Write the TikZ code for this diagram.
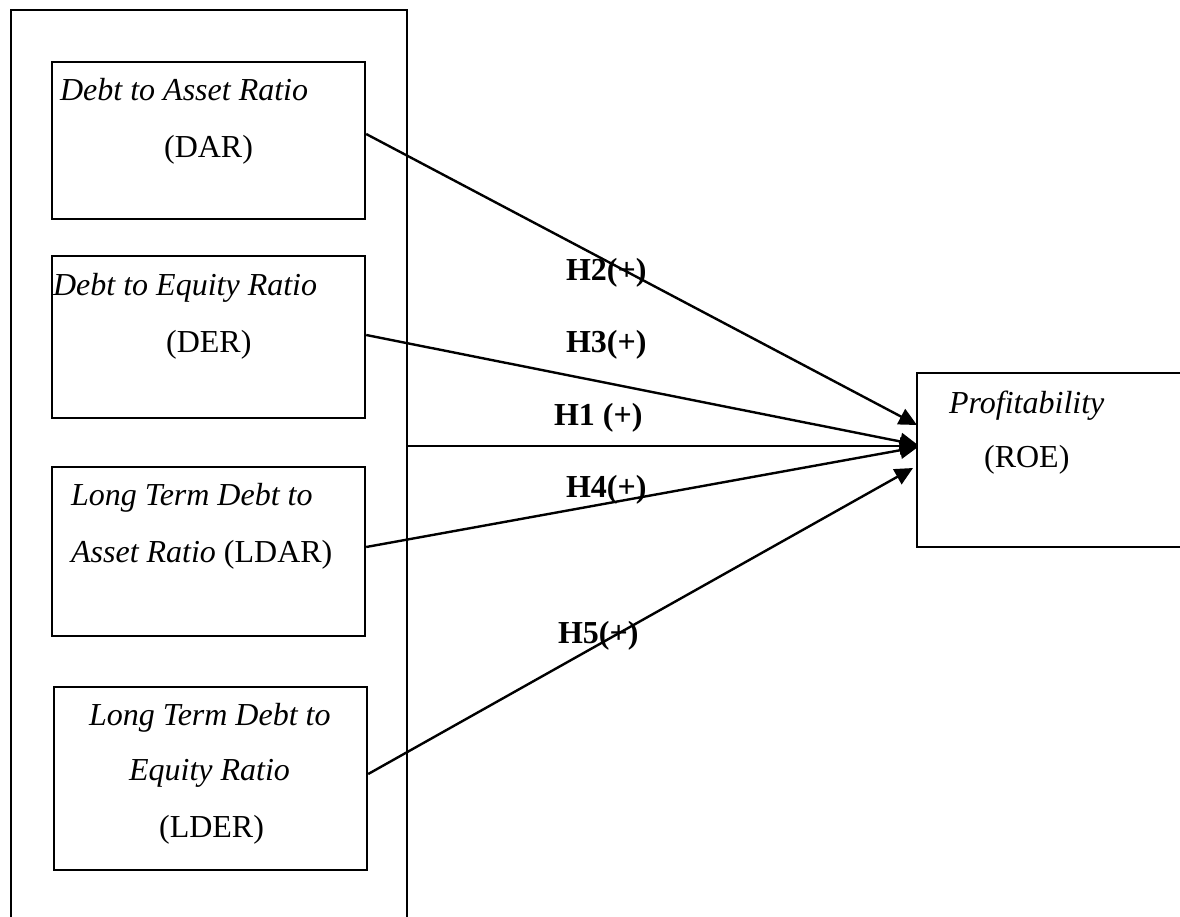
\documentclass[tikz,border=0pt]{standalone}
\usepackage{fontspec}
\setmainfont{Liberation Serif}
\usetikzlibrary{arrows.meta}
\begin{document}
\begin{tikzpicture}[x=0.5pt,y=-0.5pt,
  line width=1.1pt,
  box/.style={draw, rectangle, anchor=north west, inner sep=0pt, minimum width=156.5pt},
  txt/.style={anchor=base west, inner sep=0pt, font=\fontsize{16pt}{19pt}\selectfont},
  hlab/.style={anchor=base west, inner sep=0pt, font=\fontsize{16pt}{19pt}\selectfont\bfseries},
  arr/.style={-{Triangle[length=9pt,width=8.5pt]}, line width=1.2pt}]
\useasboundingbox (0,0) rectangle (1180,917);
% outer frame (open at the bottom)
\draw (11,930) -- (11,10) -- (407,10) -- (407,930);
% independent variable boxes
\node[box, minimum height=78.5pt] (dar) at (51,61) {};
\node[box, minimum height=81pt] (der) at (51,255) {};
\node[box, minimum height=84.5pt] (ldar) at (51,466) {};
\node[box, minimum height=91.5pt] (lder) at (53,686) {};
% texts
\node[txt] (t1a) at (59,100) {\itshape Debt to Asset Ratio};
\node[txt] (t1b) at (163,157) {(DAR)};
\node[txt] (t2a) at (52,295) {\itshape Debt to Equity Ratio};
\node[txt] (t2b) at (165,352) {(DER)};
\node[txt] (t3a) at (70,505) {\itshape Long Term Debt to};
\node[txt] (t3b) at (70,562) {\itshape Asset Ratio\/ \upshape(LDAR)};
\node[txt] (t4a) at (88,725) {\itshape Long Term Debt to};
\node[txt] (t4b) at (128,780) {\itshape Equity Ratio};
\node[txt] (t4c) at (158,837) {(LDER)};
% dependent variable box (cut at the right edge)
\draw (1190,373) -- (917,373) -- (917,547) -- (1190,547);
\node[txt] (t5a) at (948,413) {\itshape Profitability};
\node[txt] (t5b) at (983,467) {(ROE)};
% connector end points
\coordinate (roe1) at (917,425);
\coordinate (roe2) at (918,445);
\coordinate (roe3) at (918,446);
\coordinate (roe4) at (918,447);
\coordinate (roe5) at (913,468);
\coordinate (frame) at (407,446);
\coordinate (s1) at (dar.east |- 0,134);
\coordinate (s2) at (der.east |- 0,335);
\coordinate (s3) at (ldar.east |- 0,547);
\coordinate (s4) at (lder.east |- 0,774);
% connectors
\draw[arr] (s1) -- (roe1);
\draw[arr] (s2) -- (roe2);
\draw[arr] (frame) -- (roe3);
\draw[arr] (s3) -- (roe4);
\draw[arr] (s4) -- (roe5);
% labels
\node[hlab] (h2) at (565,280) {H2(+)};
\node[hlab] (h3) at (565,352) {H3(+)};
\node[hlab] (h1) at (553,425) {H1 (+)};
\node[hlab] (h4) at (565,497) {H4(+)};
\node[hlab] (h5) at (557,643) {H5(+)};
\end{tikzpicture}
\end{document}
